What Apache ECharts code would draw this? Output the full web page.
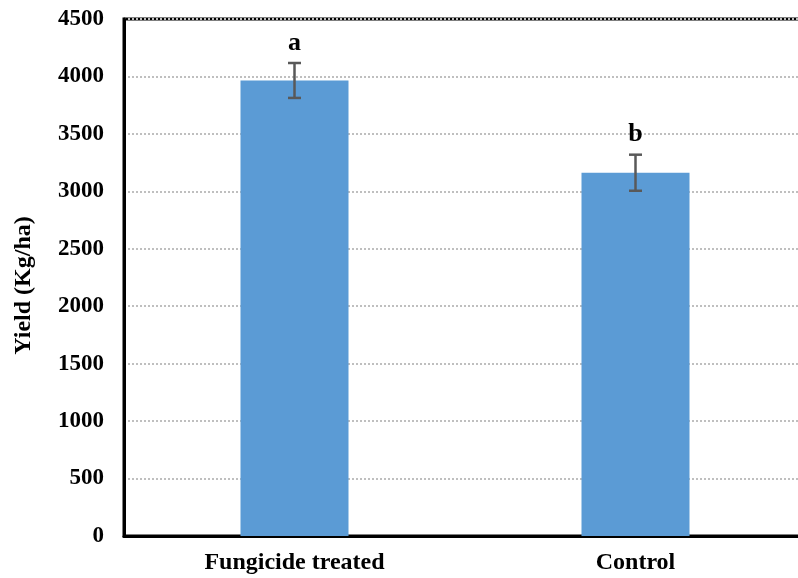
<!DOCTYPE html>
<html><head><meta charset="utf-8">
<script src="https://cdn.jsdelivr.net/npm/echarts@6/dist/echarts.min.js"></script>
<style>html,body{margin:0;padding:0;background:#fff}#c{width:798px;height:578px}</style>
</head><body><div id="c"></div>
<script>
var categories = ['Fungicide treated', 'Control'];
var yieldMean = [3965, 3162];
var yieldErr = [152, 157];
var letters = ['a', 'b'];
var yTicks = {min: 0, max: 4500, interval: 500};

var chart = echarts.init(document.getElementById('c'));
var FONT = '"Liberation Serif", "Times New Roman", serif';
chart.setOption({
  animation: false,
  grid: {left: 124, width: 682, top: 19, height: 517, show: true, borderColor: '#000', borderWidth: 3,
    outerBoundsMode: 'none', containLabel: false},
  xAxis: {
    type: 'category', data: categories,
    axisLine: {lineStyle: {color: '#000', width: 3}},
    axisTick: {show: false},
    axisLabel: {color: '#000', fontFamily: FONT, fontWeight: 'bold', fontSize: 24, margin: 15}
  },
  yAxis: {
    type: 'value', min: yTicks.min, max: yTicks.max, interval: yTicks.interval,
    name: 'Yield (Kg/ha)', nameLocation: 'middle', nameGap: 88,
    nameTextStyle: {color: '#000', fontFamily: FONT, fontWeight: 'bold', fontSize: 24, padding: [0, 16, 0, 0]},
    axisLine: {show: true, lineStyle: {color: '#000', width: 3}},
    axisTick: {show: false},
    axisLabel: {color: '#000', fontFamily: FONT, fontWeight: 'bold', fontSize: 23, margin: 20,
      formatter: function (v) { return String(v); }},
    splitLine: {lineStyle: {color: '#bfbfbf', width: 2, type: [2, 2]}}
  },
  series: [
    {
      type: 'bar', data: yieldMean, barWidth: 108,
      itemStyle: {color: '#5b9bd5'}, z: 2
    },
    {
      type: 'custom', z: 5,
      data: yieldMean.map(function (m, i) { return [i, m, yieldErr[i]]; }),
      renderItem: function (params, api) {
        var i = api.value(0), m = api.value(1), e = api.value(2);
        var top = api.coord([i, m + e]);
        var bot = api.coord([i, m - e]);
        var hw = 6.5;
        var st = {stroke: '#595959', lineWidth: 2.5};
        return {
          type: 'group',
          children: [
            {type: 'line', shape: {x1: top[0], y1: top[1], x2: bot[0], y2: bot[1]}, style: st},
            {type: 'line', shape: {x1: top[0] - hw, y1: top[1], x2: top[0] + hw, y2: top[1]}, style: st},
            {type: 'line', shape: {x1: bot[0] - hw, y1: bot[1], x2: bot[0] + hw, y2: bot[1]}, style: st},
            {type: 'text', style: {text: letters[params.dataIndex], x: top[0], y: top[1] - 20,
              textAlign: 'center', textVerticalAlign: 'middle',
              font: 'bold 26px ' + FONT, fill: '#000'}}
          ]
        };
      }
    }
  ]
});
</script></body></html>
